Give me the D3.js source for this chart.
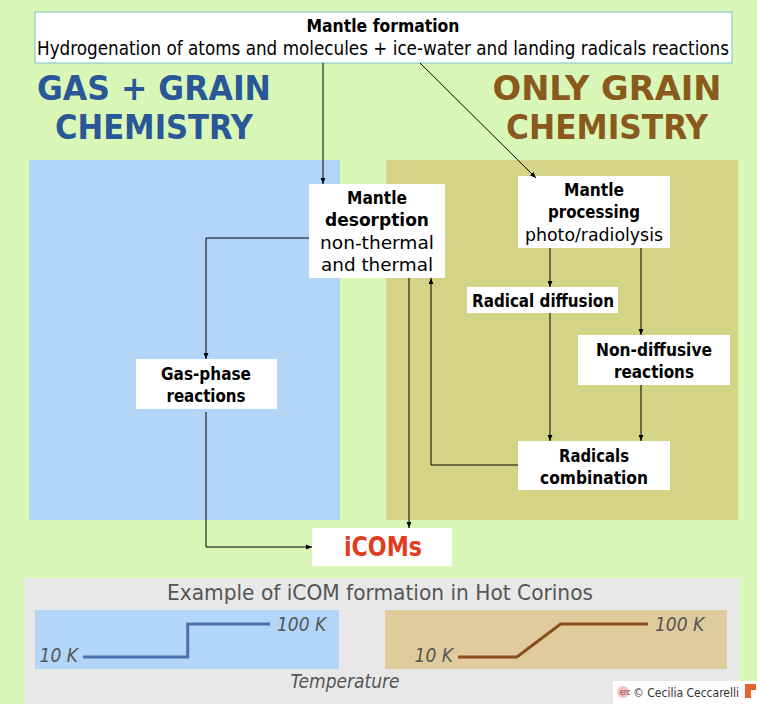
<!DOCTYPE html>
<html>
<head>
<meta charset="utf-8">
<script src="https://d3js.org/d3.v7.min.js"></script>
<style>
body { margin: 0; background: #d9f7b6; }
svg text { font-family: "Liberation Sans Narrow", "DejaVu Sans Condensed", "Open Sans", sans-serif; }
</style>
</head>
<body>
<div id="chart"></div>
<script>
// ---- data ----
const titleLines = ["Mantle formation", "Hydrogenation of atoms and molecules + ice-water and landing radicals reactions"];
const leftHeading = ["GAS + GRAIN", "CHEMISTRY"];
const rightHeading = ["ONLY  GRAIN", "CHEMISTRY"];
const nodeIds = ["top", "desorption", "processing", "diffusion", "nondiff", "combination", "gasphase", "icoms"];
const nodeLabels = [
  [{t: "Mantle formation", b: true}],
  [{t: "Mantle", b: true}, {t: "desorption", b: true}, {t: "non-thermal", b: false}, {t: "and thermal", b: false}],
  [{t: "Mantle", b: true}, {t: "processing", b: true}, {t: "photo/radiolysis", b: false}],
  [{t: "Radical diffusion", b: true}],
  [{t: "Non-diffusive", b: true}, {t: "reactions", b: true}],
  [{t: "Radicals", b: true}, {t: "combination", b: true}],
  [{t: "Gas-phase", b: true}, {t: "reactions", b: true}],
  [{t: "iCOMs", b: true}]
];
const links = [
  ["top", "desorption"], ["top", "processing"], ["desorption", "gasphase"],
  ["gasphase", "icoms"], ["desorption", "icoms"], ["combination", "desorption"],
  ["processing", "diffusion"], ["processing", "nondiff"],
  ["diffusion", "combination"], ["nondiff", "combination"]
];
const exampleTitle = "Example of iCOM formation in Hot Corinos";
const tempTicks = [10, 100];            // K
const timeTicks = [0, 1];
const gasGrainTime = [0, 0.56, 0.56, 1]; // fraction of warm-up time
const gasGrainTemp = [10, 10, 100, 100];
const grainTime = [0, 0.31, 0.54, 1];
const grainTemp = [10, 10, 100, 100];
const axisLabel = "Temperature";
const credit = "© Cecilia Ceccarelli";

// ---- layout ----
const W = 757, H = 704;
const svg = d3.select("#chart").append("svg").attr("width", W).attr("height", H);
svg.append("rect").attr("width", W).attr("height", H).attr("fill", "#d9f7b6");

// background panels
svg.append("rect").attr("x", 29).attr("y", 160).attr("width", 311).attr("height", 360).attr("fill", "#b3d5f7");
svg.append("rect").attr("x", 386).attr("y", 160).attr("width", 352).attr("height", 360).attr("fill", "#d5d385");

function lines(g, arr, cx, y0, dy, size, color, weight, widths) {
  arr.forEach((s, i) => {
    const t = g.append("text").attr("x", cx).attr("y", y0 + i * dy)
      .attr("text-anchor", "middle").attr("dominant-baseline", "central")
      .attr("font-size", size).attr("fill", color).attr("font-weight", weight).text(s);
    if (widths && widths[i]) t.attr("textLength", widths[i]).attr("lengthAdjust", "spacingAndGlyphs");
  });
}

// headings
lines(svg, leftHeading, 154, 88, 39, 33, "#2a5797", "bold", [234, 198]);
lines(svg, rightHeading, 607, 88, 39, 33, "#8a5a1c", "bold", [229, 202]);

// boxes (x0, y0, x1, y1)
const boxes = {
  top: [35, 12, 732, 63],
  desorption: [309, 184, 445, 278],
  processing: [518, 176, 670, 248],
  diffusion: [467, 287, 618, 313],
  nondiff: [578, 335, 730, 385],
  combination: [518, 441, 670, 490],
  gasphase: [136, 359, 277, 409],
  icoms: [312, 528, 452, 566]
};
const nodes = nodeIds.map((id, i) => ({id, label: nodeLabels[i], box: boxes[id]}));
const byId = Object.fromEntries(nodes.map(n => [n.id, n]));

const gNodes = svg.append("g");
nodes.forEach(n => {
  const [x0, y0, x1, y1] = n.box;
  gNodes.append("rect").attr("x", x0).attr("y", y0).attr("width", x1 - x0).attr("height", y1 - y0)
    .attr("fill", "#fff").attr("stroke", n.id === "top" ? "#7fbfc0" : "none").attr("stroke-width", 1);
});

// top box text
lines(svg, [titleLines[0]], 383, 26, 0, 17, "#000", "bold", [153]);
lines(svg, [titleLines[1]], 383, 48, 0, 19, "#000", "normal", [692]);

// node texts
const txt = {
  desorption: {cx: 377, y: 197, dy: 22.5, w: [60, 104, 114, 112]},
  processing: {cx: 594, y: 189, dy: 22.5, w: [60, 92, 138]},
  diffusion: {cx: 543, y: 300, dy: 0, w: [142]},
  nondiff: {cx: 654, y: 349, dy: 22, w: [116, 80]},
  combination: {cx: 594, y: 455, dy: 22, w: [70, 108]},
  gasphase: {cx: 206, y: 373, dy: 22, w: [90, 79]}
};
Object.keys(txt).forEach(id => {
  const o = txt[id];
  byId[id].label.forEach((l, i) => {
    svg.append("text").attr("x", o.cx).attr("y", o.y + i * o.dy)
      .attr("text-anchor", "middle").attr("dominant-baseline", "central")
      .attr("font-size", 18).attr("font-weight", l.b ? "bold" : "normal")
      .attr("textLength", o.w[i]).attr("lengthAdjust", "spacingAndGlyphs")
      .text(l.t);
  });
});
svg.append("text").attr("x", 383).attr("y", 547).attr("text-anchor", "middle").attr("dominant-baseline", "central")
  .attr("font-size", 26).attr("font-weight", "bold").attr("fill", "#e23b1d")
  .attr("textLength", 78).attr("lengthAdjust", "spacingAndGlyphs").text(byId.icoms.label[0].t);

// arrows
svg.append("defs").append("marker").attr("id", "arr").attr("viewBox", "0 0 10 10")
  .attr("refX", 10).attr("refY", 5).attr("markerWidth", 6).attr("markerHeight", 6)
  .attr("orient", "auto").append("path").attr("d", "M0,1 L10,5 L0,9 Z").attr("fill", "#000");

const routes = {
  "top-desorption": [[323, 63], [323, 184]],
  "top-processing": [[420, 63], [536, 178]],
  "desorption-gasphase": [[309, 238], [206, 238], [206, 359]],
  "gasphase-icoms": [[206, 412], [206, 547], [312, 547]],
  "desorption-icoms": [[409, 278], [409, 528]],
  "combination-desorption": [[518, 465], [431, 465], [431, 278]],
  "processing-diffusion": [[550, 248], [550, 287]],
  "processing-nondiff": [[641, 248], [641, 335]],
  "diffusion-combination": [[550, 313], [550, 441]],
  "nondiff-combination": [[641, 385], [641, 441]]
};
const lineGen = d3.line();
svg.append("g").selectAll("path").data(links).join("path")
  .attr("d", d => lineGen(routes[d[0] + "-" + d[1]]))
  .attr("fill", "none").attr("stroke", "#000").attr("stroke-width", 1)
  .attr("marker-end", "url(#arr)");

// ---- bottom example ----
svg.append("rect").attr("x", 24).attr("y", 578).attr("width", 716).attr("height", 126).attr("fill", "#e8e8e8");
svg.append("text").attr("x", 380).attr("y", 593).attr("text-anchor", "middle").attr("dominant-baseline", "central")
  .attr("font-size", 21).attr("fill", "#555").attr("textLength", 426).attr("lengthAdjust", "spacingAndGlyphs")
  .text(exampleTitle);

function profile(px0, px1, tx0, tx1, bg, color, times, temps) {
  svg.append("rect").attr("x", px0).attr("y", 610).attr("width", px1 - px0).attr("height", 59).attr("fill", bg);
  const x = d3.scaleLinear().domain(d3.extent(timeTicks)).range([tx0, tx1]);
  const y = d3.scaleLinear().domain(d3.extent(tempTicks)).range([657, 624]);
  const pts = times.map((t, i) => [x(t), y(temps[i])]);
  svg.append("path").attr("d", d3.line()(pts)).attr("fill", "none").attr("stroke", color)
    .attr("stroke-width", 3);
  svg.append("text").attr("x", x(0) - 5).attr("y", y(tempTicks[0]) - 2).attr("text-anchor", "end")
    .attr("dominant-baseline", "central").attr("font-size", 19).attr("font-style", "italic").attr("fill", "#555")
    .text(tempTicks[0] + " K");
  svg.append("text").attr("x", x(1) + 7).attr("y", y(tempTicks[1])).attr("text-anchor", "start")
    .attr("dominant-baseline", "central").attr("font-size", 19).attr("font-style", "italic").attr("fill", "#555")
    .text(tempTicks[1] + " K");
}
profile(35, 339, 83, 270, "#b3d5f7", "#4a72b0", gasGrainTime, gasGrainTemp);
profile(385, 727, 458, 648, "#dfcb9c", "#8a4e1a", grainTime, grainTemp);

svg.append("text").attr("x", 345).attr("y", 681).attr("text-anchor", "middle").attr("dominant-baseline", "central")
  .attr("font-size", 19).attr("font-style", "italic").attr("fill", "#555").text(axisLabel);

// credit
svg.append("rect").attr("x", 613).attr("y", 681).attr("width", 144).attr("height", 23).attr("fill", "#fff");
svg.append("circle").attr("cx", 623).attr("cy", 692).attr("r", 6).attr("fill", "#f2c4bd");
svg.append("text").attr("x", 625).attr("y", 692).attr("text-anchor", "middle").attr("dominant-baseline", "central")
  .attr("font-size", 8).attr("fill", "#7a3a3a").text("erc");
svg.append("text").attr("x", 633).attr("y", 692).attr("dominant-baseline", "central")
  .attr("font-size", 13).attr("fill", "#333").attr("textLength", 106).attr("lengthAdjust", "spacingAndGlyphs")
  .text(credit);
svg.append("path").attr("d", "M745,684 L756,684 L756,690 L751,690 L751,698 L745,698 Z").attr("fill", "#e8622c");
</script>
</body>
</html>
